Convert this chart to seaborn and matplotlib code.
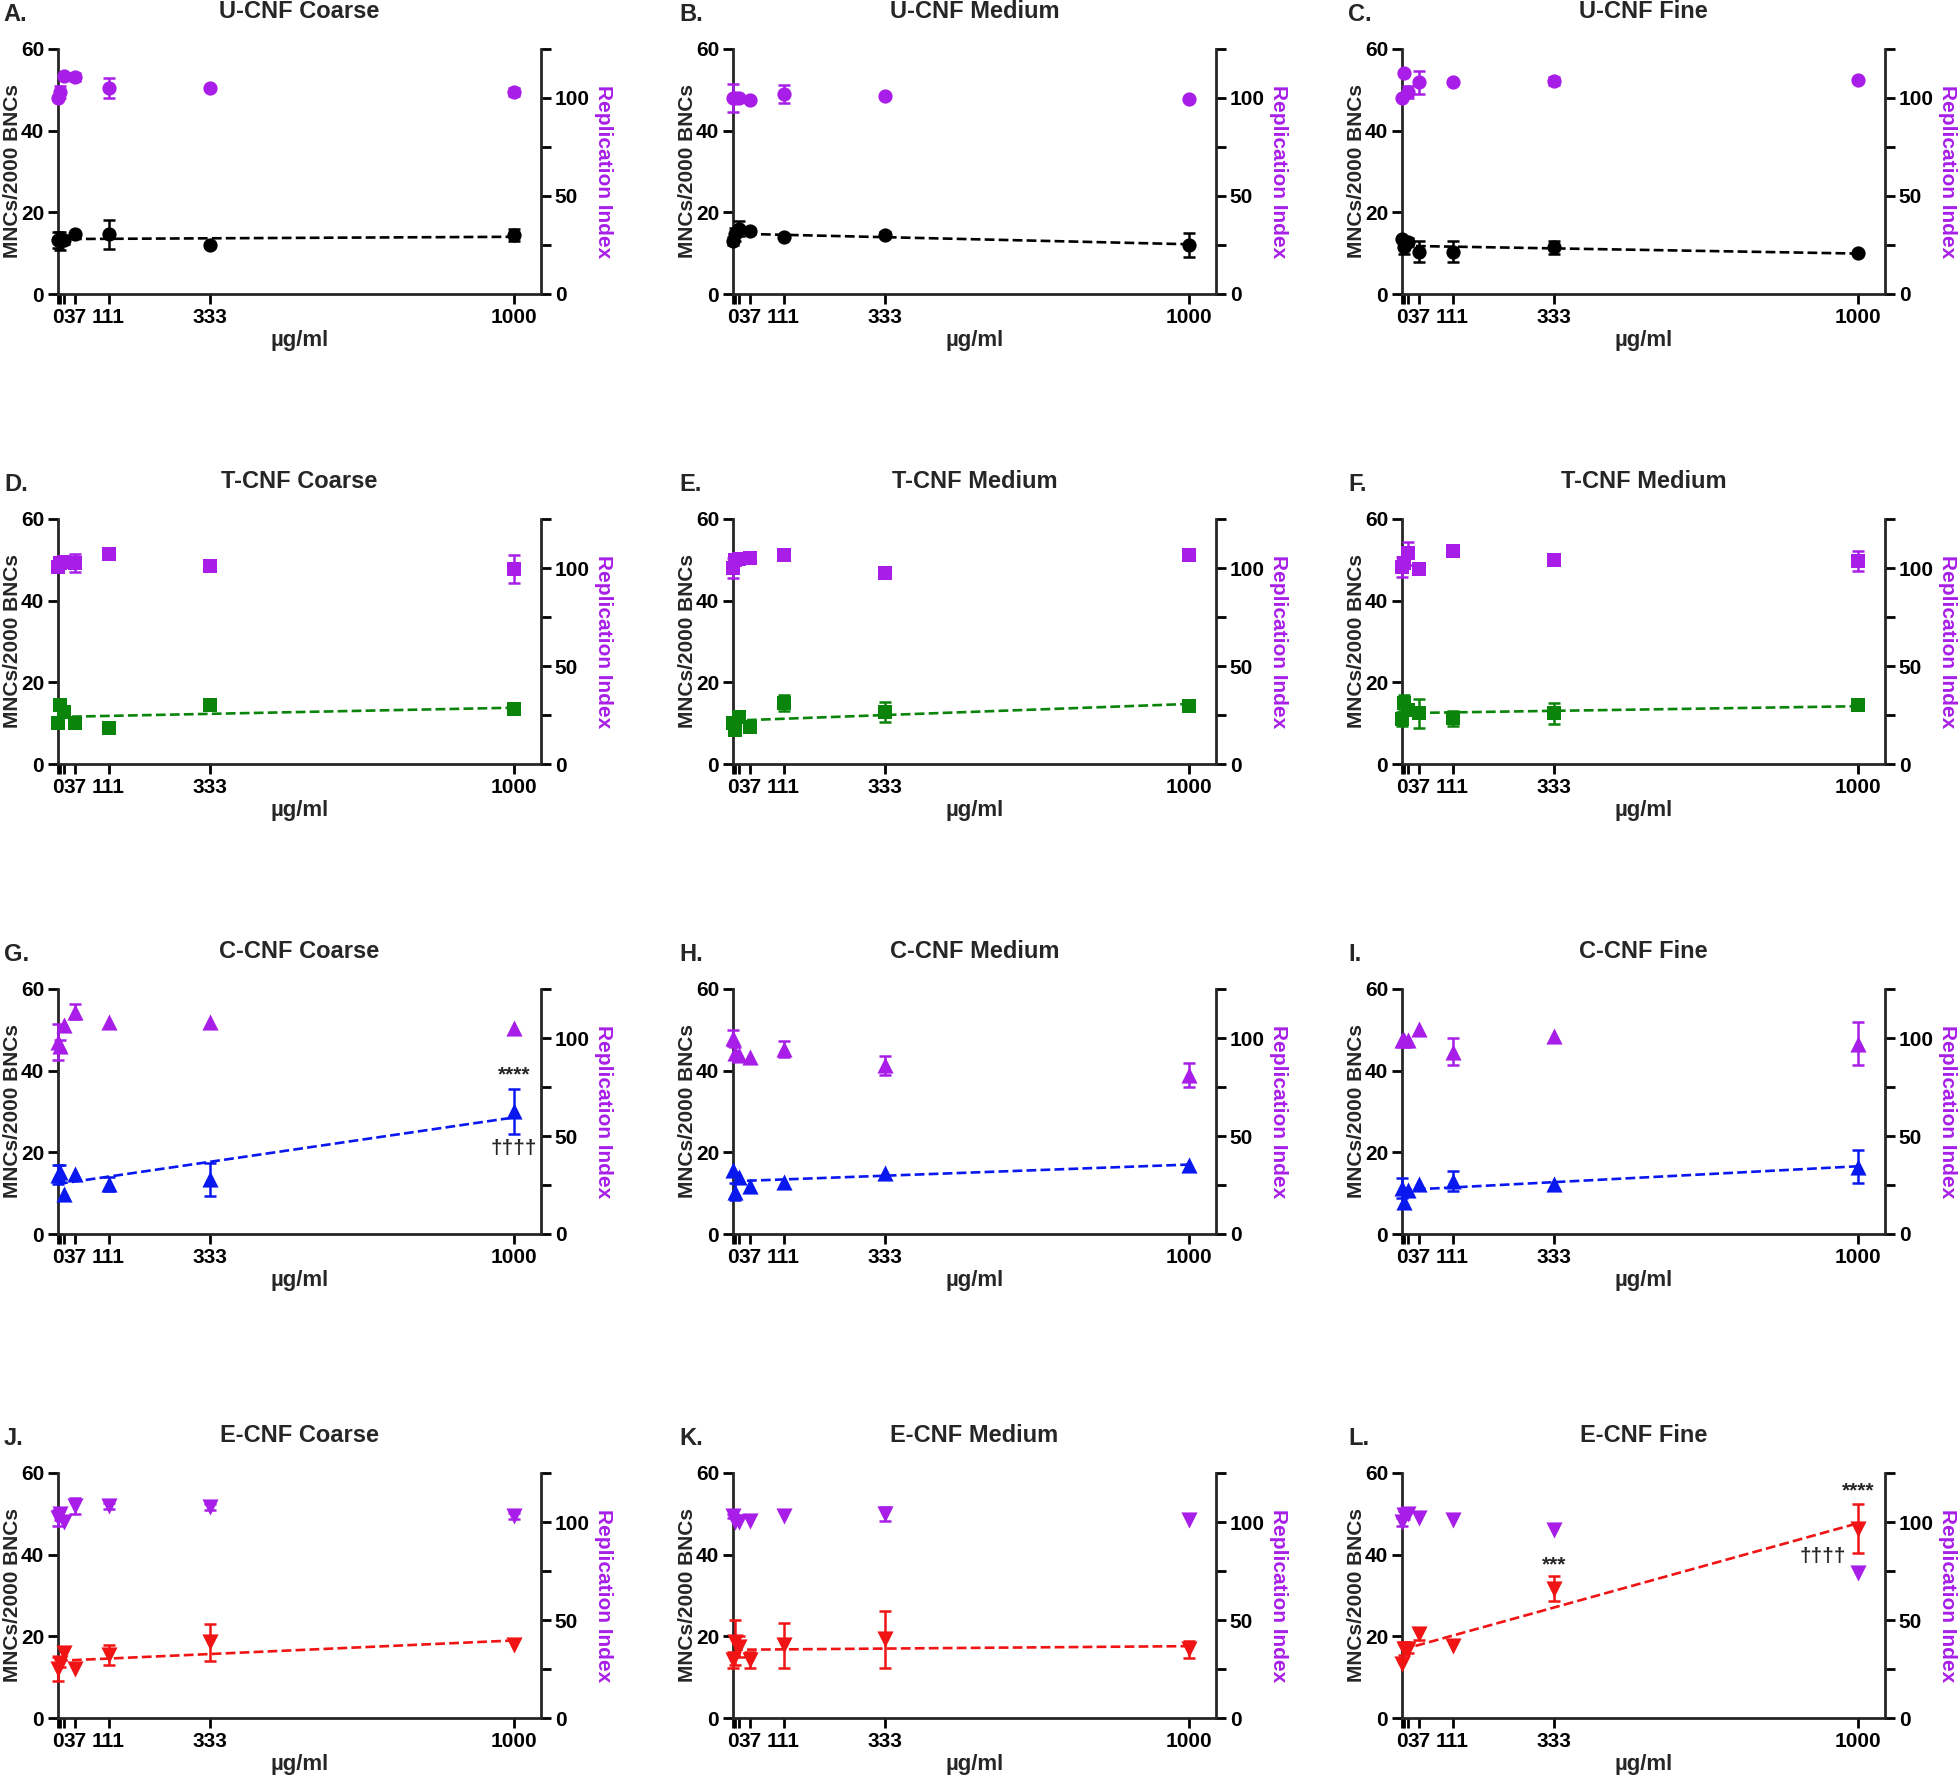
import matplotlib
matplotlib.use("Agg")
import matplotlib.pyplot as plt
import numpy as np
import pandas as pd
import seaborn as sns
from matplotlib.ticker import FixedLocator, NullFormatter

# doses (µg/ml) and x tick labels
doses = [0, 4.1, 12.3, 37, 111, 333, 1000]
dose_labels = ["0", "", "", "37", "111", "333", "1000"]

panel_letters = ["A.", "B.", "C.", "D.", "E.", "F.", "G.", "H.", "I.", "J.", "K.", "L."]
panel_titles = [
    "U-CNF Coarse", "U-CNF Medium", "U-CNF Fine",
    "T-CNF Coarse", "T-CNF Medium", "T-CNF Medium",
    "C-CNF Coarse", "C-CNF Medium", "C-CNF Fine",
    "E-CNF Coarse", "E-CNF Medium", "E-CNF Fine",
]

# MNCs/2000 BNCs, one row per panel (A..L), one value per dose
mnc_mean = [
    [13.2, 13.0, 13.2, 14.6, 14.6, 12.0, 14.4],
    [13.0, 14.6, 16.0, 15.5, 14.0, 14.5, 12.0],
    [13.5, 11.4, 12.7, 10.4, 10.4, 11.4, 10.0],
    [10.0, 14.5, 12.8, 10.0, 8.9, 14.5, 13.4],
    [10.0, 8.3, 11.4, 9.0, 15.0, 12.7, 14.1],
    [11.0, 15.0, 13.2, 12.4, 11.2, 12.4, 14.5],
    [14.5, 15.3, 9.8, 14.7, 12.3, 13.4, 30.1],
    [15.7, 10.4, 14.0, 11.8, 12.8, 14.9, 16.9],
    [11.2, 7.9, 10.8, 12.3, 13.0, 12.3, 16.5],
    [12.0, 13.5, 16.0, 12.0, 15.5, 18.5, 18.0],
    [14.2, 18.5, 17.5, 14.2, 17.8, 19.3, 16.8],
    [13.2, 17.0, 17.0, 20.6, 17.7, 31.7, 46.3],
]
mnc_err = [
    [2.0, 2.2, 1.0, 0.4, 3.6, 0.6, 1.5],
    [1.0, 1.5, 1.8, 0.4, 0.4, 0.6, 3.0],
    [0.5, 1.5, 1.0, 2.6, 2.6, 1.6, 0.3],
    [0.5, 0.5, 0.5, 0.5, 0.3, 1.2, 0.8],
    [0.5, 1.0, 1.0, 0.5, 2.0, 2.5, 0.5],
    [1.8, 2.0, 1.0, 3.5, 1.8, 2.5, 1.0],
    [2.3, 1.5, 0.0, 0.0, 1.7, 4.0, 5.5],
    [0.0, 2.0, 0.0, 0.0, 0.0, 0.0, 0.0],
    [2.5, 0.0, 0.0, 0.0, 2.5, 0.0, 4.0],
    [3.0, 1.0, 0.0, 0.0, 2.5, 4.5, 0.0],
    [2.0, 5.5, 2.5, 2.0, 5.5, 7.0, 2.0],
    [0.0, 1.5, 1.0, 1.5, 0.0, 3.0, 6.0],
]

# Replication index (%), one row per panel (A..L)
ri_mean = [
    [100.0, 103.0, 111.0, 110.5, 105.0, 105.0, 103.0],
    [100.0, 100.0, 100.0, 99.0, 102.0, 101.0, 99.5],
    [100.0, 112.5, 103.0, 108.0, 108.0, 108.5, 109.0],
    [100.5, 102.5, 103.0, 102.5, 107.0, 101.0, 99.5],
    [100.0, 104.0, 104.5, 105.0, 106.5, 97.5, 106.5],
    [100.5, 102.5, 107.5, 99.5, 108.5, 104.0, 103.5],
    [98.0, 96.0, 106.5, 113.5, 108.0, 108.0, 105.0],
    [100.0, 92.5, 91.5, 90.5, 94.5, 86.0, 81.0],
    [99.0, 99.0, 99.0, 104.5, 93.0, 101.0, 97.0],
    [102.0, 104.0, 100.0, 108.0, 108.0, 107.5, 103.0],
    [103.0, 100.0, 100.0, 100.3, 103.0, 104.0, 101.0],
    [100.0, 103.5, 104.0, 102.0, 101.0, 95.7, 74.0],
]
ri_err = [
    [1.0, 3.0, 1.0, 2.0, 5.0, 1.0, 2.0],
    [7.0, 2.0, 1.0, 0.5, 4.5, 1.0, 0.5],
    [0.5, 0.5, 3.0, 6.0, 0.5, 2.0, 0.5],
    [1.0, 1.0, 1.0, 4.5, 0.5, 2.0, 7.0],
    [5.0, 1.0, 1.0, 0.5, 0.5, 0.5, 0.5],
    [5.0, 2.0, 6.0, 2.5, 0.5, 0.5, 5.0],
    [9.0, 3.0, 0.0, 4.0, 0.0, 0.0, 0.0],
    [4.0, 3.0, 0.0, 0.0, 4.0, 5.0, 6.0],
    [0.0, 0.0, 0.0, 0.0, 7.0, 0.0, 11.0],
    [4.0, 3.0, 0.0, 4.0, 1.5, 1.5, 1.5],
    [1.0, 0.0, 0.0, 0.0, 0.0, 3.5, 0.0],
    [2.0, 2.0, 0.0, 0.0, 0.0, 0.0, 0.0],
]

# significance marks: (panel index, dose, MNC level, text, alignment)
sig_marks = [
    (6, 1000, 39.0, "****", "center"),
    (6, 1000, 21.0, "††††", "center"),
    (11, 333, 37.5, "***", "center"),
    (11, 1000, 55.5, "****", "center"),
    (11, 975, 39.5, "††††", "right"),
]

PURPLE = "#a81ee8"
row_colors = ["black", "#0a840a", "#0a18f0", "#f01414"]
row_markers = ["o", "s", "^", "v"]
row_sizes = [105, 95, 135, 135]

sns.set_theme(style="ticks")
plt.rcParams["font.family"] = ["Liberation Sans Narrow", "Liberation Sans", "DejaVu Sans"]
plt.rcParams["font.weight"] = "bold"
plt.rcParams["axes.linewidth"] = 2.0

W, H = 1960, 1782
fig = plt.figure(figsize=(W / 100, H / 100), dpi=100)

col_left = [58, 733, 1402]
row_top = [49, 519, 989, 1473]
ax_w, ax_h = 483, 245

for i in range(12):
    r, c = divmod(i, 3)
    color, marker, size = row_colors[r], row_markers[r], row_sizes[r]
    ax = fig.add_axes([col_left[c] / W, 1 - (row_top[r] + ax_h) / H, ax_w / W, ax_h / H])
    ax2 = ax.twinx()

    df = pd.DataFrame({
        "dose": doses,
        "mnc": mnc_mean[i],
        "mnc_err": mnc_err[i],
        "ri": ri_mean[i],
        "ri_err": ri_err[i],
    })

    # MNC: linear fit, error bars, means
    sns.regplot(data=df, x="dose", y="mnc", ax=ax, scatter=False, ci=None,
                truncate=True, color=color, line_kws=dict(ls="--", lw=1.9))
    bars = df[df["mnc_err"] > 0]
    ax.errorbar(bars["dose"], bars["mnc"], yerr=bars["mnc_err"], fmt="none",
                ecolor=color, elinewidth=1.8, capsize=4.5, capthick=1.8,
                clip_on=False, zorder=3)
    sns.scatterplot(data=df, x="dose", y="mnc", ax=ax, marker=marker, s=size,
                    color=color, edgecolor=color, linewidth=0, clip_on=False,
                    zorder=4, legend=False)

    # replication index on the right axis
    bars = df[df["ri_err"] > 0]
    ax2.errorbar(bars["dose"], bars["ri"], yerr=bars["ri_err"], fmt="none",
                 ecolor=PURPLE, elinewidth=1.8, capsize=4.5, capthick=1.8,
                 clip_on=False, zorder=3)
    sns.scatterplot(data=df, x="dose", y="ri", ax=ax2, marker=marker, s=size,
                    color=PURPLE, edgecolor=PURPLE, linewidth=0, clip_on=False,
                    zorder=4, legend=False)

    ax.set_xlim(0, 1060)
    ax.set_ylim(0, 60)
    ax2.set_ylim(0, 125)

    ax.xaxis.set_major_locator(FixedLocator(doses))
    ax.set_xticklabels(dose_labels)
    ax.yaxis.set_major_locator(FixedLocator([0, 20, 40, 60]))
    ax2.yaxis.set_major_locator(FixedLocator([0, 50, 100]))
    ax2.yaxis.set_minor_locator(FixedLocator([25, 75, 125]))
    ax2.yaxis.set_minor_formatter(NullFormatter())

    for a in (ax, ax2):
        a.tick_params(which="both", direction="out", length=7, width=2,
                      labelsize=15, colors="black", pad=3)
        a.grid(False)
    ax.spines["top"].set_visible(False)
    ax.spines["right"].set_visible(False)
    for s in ("top", "left", "bottom"):
        ax2.spines[s].set_visible(False)
    ax2.spines["right"].set_linewidth(2.0)

    ax.set_xlabel("")
    ax.set_ylabel("")
    ax2.set_ylabel("")
    ax.text(0.5, -0.19, "µg/ml", transform=ax.transAxes, ha="center",
            va="center", fontsize=16)
    ax.text(-0.095, 0.5, "MNCs/2000 BNCs", transform=ax.transAxes, ha="center",
            va="center", rotation=90, fontsize=15)
    ax.text(1.13, 0.5, "Replication Index", transform=ax.transAxes,
            ha="center", va="center", rotation=270, fontsize=15, color=PURPLE)
    ax.text(0.5, 1.155, panel_titles[i], transform=ax.transAxes, ha="center",
            va="center", fontsize=17)
    ax.text(-0.112, 1.14, panel_letters[i], transform=ax.transAxes, ha="left",
            va="center", fontsize=17)

    for p, x, y, label, align in sig_marks:
        if p == i:
            ax.text(x, y, label, ha=align, va="center", fontsize=15, zorder=5)

    ax2.set_zorder(ax.get_zorder() + 1)

fig.savefig("out.png", dpi=100)
